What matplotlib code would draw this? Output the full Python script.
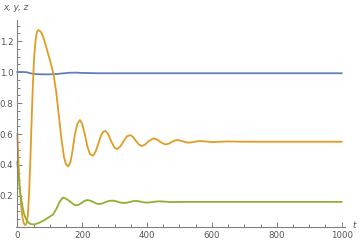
import matplotlib
matplotlib.use("Agg")
import matplotlib.pyplot as plt
import matplotlib.ticker as mticker

# values
t_x = [0, 20, 30, 40, 50, 60, 80, 100, 120, 140, 160, 180, 200, 250, 300, 400, 1000]
x_vals = [1.0, 1.0, 0.998, 0.992, 0.988, 0.986, 0.985, 0.985, 0.987, 0.991, 0.995,
          0.996, 0.994, 0.992, 0.992, 0.992, 0.992]

t_y = [0, 4, 8, 12, 16, 20, 24, 28, 32, 36, 40, 44, 48, 52, 56, 60, 64, 68, 74, 80,
       88, 96, 104, 112, 120, 128, 136, 144, 150, 157, 164, 170, 177, 185, 193, 200,
       208, 216, 224, 234, 242, 250, 258, 265, 272, 280, 290, 300, 308, 318, 328, 338,
       349, 358, 366, 375, 384, 394, 404, 419, 430, 440, 455, 465, 476, 486, 496, 510,
       526, 545, 560, 580, 600, 650, 700, 800, 900, 1000]
y_vals = [0.6, 0.4, 0.24, 0.13, 0.06, 0.025, 0.012, 0.02, 0.07, 0.2, 0.42, 0.68, 0.92,
          1.1, 1.2, 1.255, 1.27, 1.268, 1.255, 1.225, 1.17, 1.11, 1.05, 0.98, 0.87, 0.72,
          0.57, 0.45, 0.405, 0.39, 0.42, 0.49, 0.59, 0.665, 0.69, 0.665, 0.6, 0.52, 0.47,
          0.46, 0.49, 0.54, 0.59, 0.615, 0.62, 0.6, 0.55, 0.51, 0.503, 0.52, 0.555, 0.585,
          0.593, 0.578, 0.555, 0.532, 0.522, 0.532, 0.552, 0.572, 0.565, 0.55, 0.533,
          0.536, 0.548, 0.558, 0.561, 0.553, 0.544, 0.548, 0.555, 0.552, 0.548, 0.552,
          0.55, 0.55, 0.55, 0.55]

t_z = [0, 4, 8, 12, 16, 20, 25, 30, 35, 40, 46, 55, 65, 80, 95, 110, 120, 130, 140,
       148, 158, 168, 178, 188, 198, 207, 216, 225, 233, 242, 250, 262, 273, 285, 296,
       305, 315, 327, 338, 348, 358, 368, 377, 388, 399, 410, 420, 432, 445, 458, 470,
       485, 500, 550, 600, 700, 800, 900, 1000]
z_vals = [0.42, 0.32, 0.24, 0.18, 0.13, 0.09, 0.06, 0.04, 0.027, 0.02, 0.017, 0.018,
          0.025, 0.04, 0.06, 0.08, 0.115, 0.16, 0.19, 0.185, 0.172, 0.155, 0.14, 0.142,
          0.155, 0.168, 0.174, 0.17, 0.163, 0.153, 0.148, 0.152, 0.162, 0.169, 0.17,
          0.166, 0.159, 0.155, 0.157, 0.162, 0.167, 0.168, 0.165, 0.16, 0.157, 0.159,
          0.162, 0.165, 0.165, 0.163, 0.161, 0.161, 0.162, 0.162, 0.162, 0.162, 0.162,
          0.162, 0.162]

colors = dict(x="#5E81B5", y="#E19C24", z="#8FB032")
axis_col = "#808080"
text_col = "#555555"

fig = plt.figure(figsize=(3.6, 2.45), dpi=100)
ax = fig.add_axes([0.0436, 0.0735, 0.9144, 0.8445])

ax.plot(t_x, x_vals, color=colors["x"], lw=1.3)
ax.plot(t_y, y_vals, color=colors["y"], lw=1.3)
ax.plot(t_z, z_vals, color=colors["z"], lw=1.3)

ax.set_xlim(-5, 1010)
ax.set_ylim(0, 1.335)

for s in ["top", "right"]:
    ax.spines[s].set_visible(False)
ax.spines["left"].set_position(("data", 0))
ax.spines["bottom"].set_position(("data", 0))
for s in ["left", "bottom"]:
    ax.spines[s].set_color(axis_col)
    ax.spines[s].set_linewidth(0.8)

ax.xaxis.set_major_locator(mticker.MultipleLocator(200))
ax.xaxis.set_minor_locator(mticker.MultipleLocator(50))
ax.yaxis.set_major_locator(mticker.FixedLocator([0.2, 0.4, 0.6, 0.8, 1.0, 1.2]))
ax.yaxis.set_minor_locator(mticker.MultipleLocator(0.05))
ax.yaxis.set_major_formatter(mticker.FormatStrFormatter("%.1f"))

ax.tick_params(which="both", direction="in", color=axis_col, width=0.7,
               labelsize=6.2, labelcolor=text_col)
ax.tick_params(which="major", length=3.5)
ax.tick_params(which="minor", length=2)
ax.tick_params(axis="x", pad=3)
ax.tick_params(axis="y", pad=3)

fig.text(3 / 360, 1 - 7 / 245, "x, y, z", style="italic", fontsize=6.2,
         color=text_col, va="center", ha="left")
fig.text(352 / 360, 1 - 225 / 245, "t", style="italic", fontsize=6.2,
         color=text_col, va="center", ha="left")

fig.savefig("out.png", dpi=100)
